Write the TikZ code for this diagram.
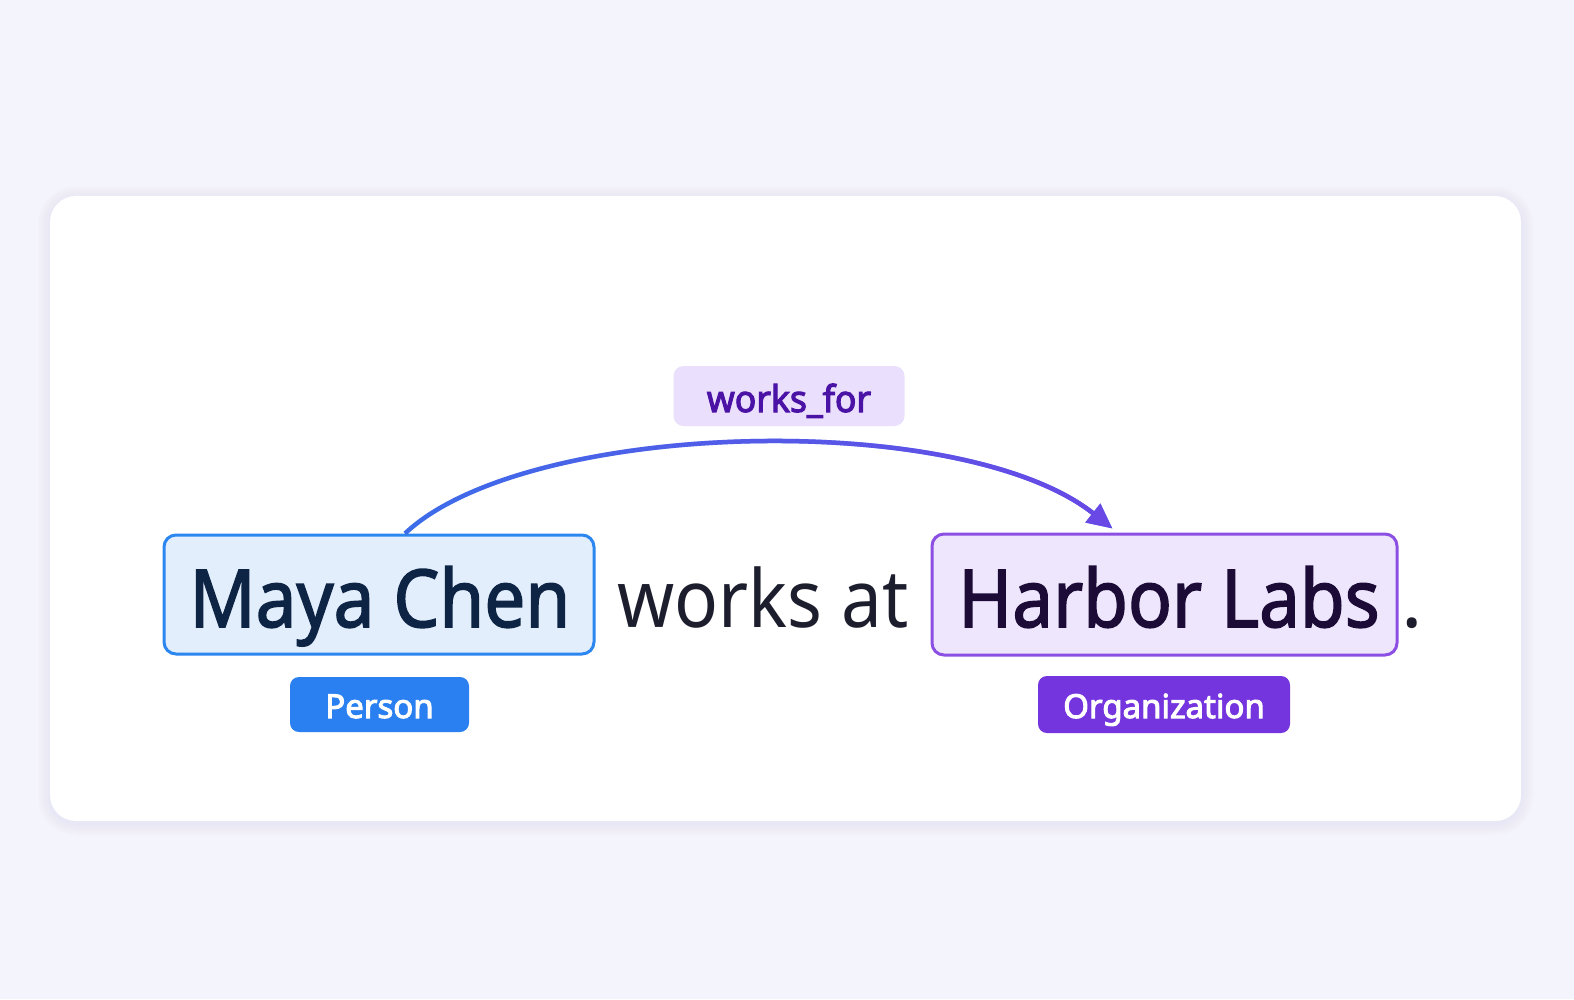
\documentclass[tikz,border=0pt]{standalone}
\usepackage{fontspec}
\setmainfont{Noto Sans}
\newfontfamily\medfont{Noto Sans}[FakeBold=2]
\newfontfamily\semifont{Noto Sans}[FakeBold=3]
\usetikzlibrary{arrows.meta,fadings}
\definecolor{bg}{HTML}{F4F4FC}
\definecolor{shadowcol}{HTML}{D6D3F5}
\definecolor{mayafill}{HTML}{E2EEFC}
\definecolor{mayaline}{HTML}{2C86F0}
\definecolor{mayatext}{HTML}{0E2444}
\definecolor{plaintext}{HTML}{1C1E2E}
\definecolor{harbfill}{HTML}{EEE6FC}
\definecolor{harbline}{HTML}{8B4FE3}
\definecolor{harbtext}{HTML}{1B0B36}
\definecolor{wffill}{HTML}{EADFFC}
\definecolor{wftext}{HTML}{4B12A6}
\definecolor{personfill}{HTML}{2A80F0}
\definecolor{orgfill}{HTML}{7535DE}
\definecolor{arrblue}{HTML}{3D6DEA}
\definecolor{arrpurple}{HTML}{6B48E6}
\tikzfading[name=fadein, left color=transparent!100, right color=transparent!0]
\tikzset{
  entbox/.style={line width=3pt, rounded corners=12pt, inner sep=0pt},
  bigtxt/.style={font=\medfont\fontsize{80}{96}\selectfont, inner sep=0pt, anchor=base},
  plaintxt/.style={font=\fontsize{80}{96}\selectfont, inner sep=0pt, anchor=base, text=plaintext},
  tagbox/.style={rounded corners=9pt, inner sep=0pt, text=white, font=\semifont\fontsize{33}{40}\selectfont, text height=27pt, text depth=0pt},
  rel/.style={line width=4.5pt, -{Triangle[length=25pt,width=23pt]}}
}
\begin{document}
\begin{tikzpicture}[x=1pt,y=-1pt]
\fill[bg] (0,0) rectangle (1574,999);
\useasboundingbox (0,0) rectangle (1574,999);
% card shadow
\foreach \i in {1,...,12}
  \fill[shadowcol, opacity=0.03, rounded corners=26pt+\i pt] (50-\i,196-\i+2) rectangle (1521+\i,821+\i+2);
\fill[white, rounded corners=26pt] (50,196) rectangle (1521,821);
% entity boxes
\node[entbox, fill=mayafill, draw=mayaline, minimum width=430pt, minimum height=119pt] (maya) at (379,594.5) {};
\node[bigtxt, text=mayatext] (mayatxt) at (380,627) {\scalebox{0.91}[1]{Maya Chen}};
\node[plaintxt] (worksat) at (763,627) {\scalebox{0.91}[1]{works at}};
\node[entbox, fill=harbfill, draw=harbline, minimum width=465pt, minimum height=121pt] (harbor) at (1164.5,594.5) {};
\node[bigtxt, text=harbtext] (harbtxt) at (1169,627) {\scalebox{0.91}[1]{Harbor Labs}};
\node[plaintxt] (dot) at (1412,627) {.};
% tags
\node[tagbox, fill=personfill, minimum width=179pt, minimum height=55pt] (person) at (379.5,704.5) {Person};
\node[tagbox, fill=orgfill, minimum width=252pt, minimum height=57pt] (org) at (1164,704.5) {Organization};
% relation label
\node[rounded corners=10pt, fill=wffill, text=wftext, minimum width=231pt, minimum height=60pt, inner sep=0pt, font=\semifont\fontsize{37}{44}\selectfont, text height=32pt, text depth=0pt] (wf) at (789,396) {\scalebox{0.96}[1]{works\_for}};
% relation arrow
\coordinate (s) at ([xshift=26pt]maya.north);
\coordinate (e) at ([xshift=-52pt,yshift=4pt]harbor.north);
\coordinate (c1) at (525,420);
\coordinate (c2) at (960,408);
\draw[rel, arrblue] (s) .. controls (c1) and (c2) .. (e);
\draw[rel, arrpurple, path fading=fadein] (s) .. controls (c1) and (c2) .. (e);
\end{tikzpicture}
\end{document}
